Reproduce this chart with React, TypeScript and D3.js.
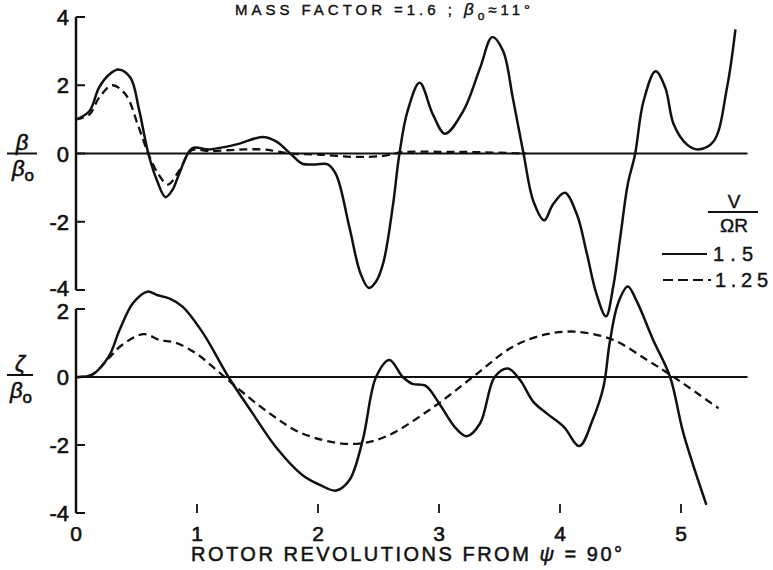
import React from "react";
import * as d3 from "d3";

// Data (x = rotor revolutions)
const betaSolid: [number, number][] = [
  [0, 1.0], [0.11, 1.24], [0.19, 1.93], [0.27, 2.3], [0.35, 2.46], [0.45, 2.22], [0.52, 1.3],
  [0.6, -0.03], [0.67, -0.8], [0.74, -1.28], [0.8, -1.05], [0.85, -0.62], [0.96, 0.15],
  [1.1, 0.12], [1.32, 0.26], [1.54, 0.48], [1.65, 0.36], [1.78, -0.03], [1.87, -0.3],
  [1.98, -0.32], [2.08, -0.32], [2.15, -0.62], [2.26, -2.17], [2.35, -3.5], [2.42, -3.94],
  [2.48, -3.75], [2.54, -3.2], [2.62, -1.5], [2.67, -0.08], [2.74, 1.24], [2.84, 2.07],
  [2.95, 1.14], [3.05, 0.58], [3.2, 1.24], [3.34, 2.51], [3.44, 3.41], [3.53, 3.0],
  [3.61, 1.63], [3.7, -0.03], [3.78, -1.4], [3.87, -1.96], [3.94, -1.5], [4.04, -1.15],
  [4.14, -1.79], [4.22, -2.9], [4.3, -4.1], [4.38, -4.77], [4.44, -3.9], [4.5, -2.4],
  [4.56, -0.9], [4.62, -0.03], [4.69, 1.53], [4.79, 2.41], [4.87, 1.93], [4.94, 0.85],
  [5.05, 0.26], [5.14, 0.12], [5.27, 0.36], [5.38, 1.93], [5.45, 3.64],
];
const betaDashed: [number, number][] = [
  [0, 1.0], [0.11, 1.14], [0.19, 1.63], [0.3, 2.0], [0.41, 1.73], [0.52, 0.75], [0.6, -0.03],
  [0.68, -0.6], [0.76, -0.91], [0.85, -0.52], [0.96, 0.1], [1.1, 0.07], [1.32, 0.11],
  [1.54, 0.12], [1.65, 0.07], [1.77, 0], [2.0, -0.03], [2.29, -0.1], [2.54, -0.07],
  [2.7, 0.04], [3.0, 0.05], [3.3, 0.04], [3.72, 0.0],
];
const zetaSolid: [number, number][] = [
  [0, 0], [0.13, 0.06], [0.27, 0.6], [0.36, 1.38], [0.47, 2.17], [0.59, 2.51], [0.67, 2.41],
  [0.77, 2.31], [0.88, 2.07], [1.05, 1.29], [1.26, 0], [1.46, -1.07], [1.65, -2.05],
  [1.87, -2.88], [2.02, -3.18], [2.15, -3.34], [2.26, -3.03], [2.37, -1.85], [2.48, 0],
  [2.59, 0.5], [2.7, 0], [2.78, -0.2], [2.89, -0.26], [3.0, -0.77], [3.14, -1.51],
  [3.23, -1.74], [3.34, -1.36], [3.46, 0], [3.57, 0.25], [3.67, -0.09], [3.78, -0.73],
  [3.89, -1.07], [4.03, -1.46], [4.16, -2.03], [4.27, -1.26], [4.36, -0.28], [4.41, 0.99],
  [4.48, 2.17], [4.56, 2.66], [4.63, 2.26], [4.77, 1.09], [4.91, 0], [5.02, -1.66],
  [5.21, -3.76],
];
const zetaDashed: [number, number][] = [
  [0, 0], [0.13, 0.06], [0.27, 0.55], [0.38, 0.94], [0.56, 1.26], [0.69, 1.09], [0.82, 1.01],
  [0.99, 0.7], [1.16, 0.21], [1.32, -0.28], [1.6, -1.07], [1.87, -1.66], [2.26, -1.97],
  [2.54, -1.78], [2.92, -0.97], [3.28, 0], [3.61, 0.89], [3.89, 1.26], [4.14, 1.33],
  [4.44, 1.09], [4.72, 0.5], [4.94, 0], [5.31, -0.92],
];

const xTicks = [1, 2, 3, 4, 5];
const xTickLabels = ["0", "1", "2", "3", "4", "5"];
const betaTicks = [4, 2, 0, -2, -4];
const zetaTicks = [2, 0, -2, -4];
const legendLabels = ["1.5", "1.25"];
const zeroLineEnd = 5.55;

const FONT = "'Liberation Sans', Arial, sans-serif";

export default function App() {
  const x = d3.scaleLinear().domain([0, 5]).range([76, 681]);
  const yTop = d3.scaleLinear().domain([-4, 4]).range([290, 17]);
  const yBot = d3.scaleLinear().domain([-4, 2]).range([513, 309]);

  const lineTop = d3.line<[number, number]>().x((d) => x(d[0])).y((d) => yTop(d[1])).curve(d3.curveCatmullRom.alpha(0.5));
  const lineBot = d3.line<[number, number]>().x((d) => x(d[0])).y((d) => yBot(d[1])).curve(d3.curveCatmullRom.alpha(0.5));

  const axisX = x(0);
  const stroke = "#111";
  const txt = { fill: stroke, stroke: stroke, strokeWidth: 0.6 };
  const tickNudge = (t: number, top: boolean) => (top && t === -4 ? -2 : !top && t === 2 ? 2 : 0);

  return (
    <svg width={773} height={570} style={{ position: "absolute", left: 0, top: 0, background: "#fff" }} fontFamily={FONT}>
      <rect width={773} height={570} fill="#fff" />
      {/* Title */}
      <text x={235} y={15} fontSize={15} {...txt} strokeWidth={0.4} textLength={295} lengthAdjust="spacing">
        MASS FACTOR =1.6 ;  <tspan fontStyle="italic" fontSize={17}>β</tspan><tspan dy={5} fontSize={12}>o</tspan><tspan dy={-5}>≈11°</tspan>
      </text>

      {/* Top panel axis */}
      <line x1={axisX} x2={axisX} y1={yTop(4)} y2={yTop(-4)} stroke={stroke} strokeWidth={2.5} />
      {betaTicks.map((t) => (
        <g key={"bt" + t}>
          <line x1={axisX} x2={axisX + 9} y1={yTop(t)} y2={yTop(t)} stroke={stroke} strokeWidth={2} />
          <text x={69} y={yTop(t) + 8 + tickNudge(t, true)} fontSize={22} textAnchor="end" {...txt}>
            {t < 0 ? "-" + Math.abs(t) : String(t)}
          </text>
        </g>
      ))}
      <line x1={axisX} x2={x(zeroLineEnd)} y1={yTop(0)} y2={yTop(0)} stroke={stroke} strokeWidth={2} />

      {/* Bottom panel axis */}
      <line x1={axisX} x2={axisX} y1={yBot(2)} y2={yBot(-4)} stroke={stroke} strokeWidth={2.5} />
      {zetaTicks.map((t) => (
        <g key={"zt" + t}>
          <line x1={axisX} x2={axisX + 9} y1={yBot(t)} y2={yBot(t)} stroke={stroke} strokeWidth={2} />
          <text x={69} y={yBot(t) + 8 + tickNudge(t, false)} fontSize={22} textAnchor="end" {...txt}>
            {t < 0 ? "-" + Math.abs(t) : String(t)}
          </text>
        </g>
      ))}
      <line x1={axisX} x2={x(zeroLineEnd)} y1={yBot(0)} y2={yBot(0)} stroke={stroke} strokeWidth={2} />

      {/* Y labels */}
      <text x={22} y={yTop(0) - 4} fontSize={22} fontStyle="italic" textAnchor="middle" {...txt}>β</text>
      <line x1={7} x2={37} y1={yTop(0)} y2={yTop(0)} stroke={stroke} strokeWidth={2} />
      <text x={12} y={yTop(0) + 22} fontSize={22} fontStyle="italic" {...txt}>
        β<tspan dy={5} fontSize={17} fontStyle="normal">o</tspan>
      </text>
      <text x={20} y={yBot(0) - 6} fontSize={22} fontStyle="italic" textAnchor="middle" {...txt}>ζ</text>
      <line x1={7} x2={33} y1={yBot(0) - 2} y2={yBot(0) - 2} stroke={stroke} strokeWidth={2} />
      <text x={10} y={yBot(0) + 21} fontSize={22} fontStyle="italic" {...txt}>
        β<tspan dy={5} fontSize={17} fontStyle="normal">o</tspan>
      </text>

      {/* X ticks & labels */}
      {xTicks.map((t) => (
        <line key={"xt" + t} x1={x(t)} x2={x(t)} y1={504} y2={513} stroke={stroke} strokeWidth={1.8} />
      ))}
      {xTickLabels.map((l, i) => (
        <text key={"xl" + i} x={x(i)} y={541} fontSize={21} textAnchor="middle" {...txt}>{l}</text>
      ))}
      <text x={191} y={561} fontSize={20} {...txt} strokeWidth={0.5} textLength={431} lengthAdjust="spacing">
        ROTOR REVOLUTIONS FROM <tspan fontStyle="italic">ψ</tspan> = 90°
      </text>

      {/* Curves */}
      <path d={lineTop(betaDashed) || ""} fill="none" stroke={stroke} strokeWidth={2.3} strokeDasharray="8,5" />
      <path d={lineTop(betaSolid) || ""} fill="none" stroke={stroke} strokeWidth={2.5} />
      <path d={lineBot(zetaDashed) || ""} fill="none" stroke={stroke} strokeWidth={2.3} strokeDasharray="8,5" />
      <path d={lineBot(zetaSolid) || ""} fill="none" stroke={stroke} strokeWidth={2.5} />

      {/* Legend */}
      <text x={734} y={208} fontSize={19} textAnchor="middle" {...txt} strokeWidth={0.4}>V</text>
      <line x1={708} x2={758} y1={212} y2={212} stroke={stroke} strokeWidth={2} />
      <text x={734} y={232} fontSize={19} textAnchor="middle" {...txt} strokeWidth={0.4}>ΩR</text>
      <line x1={662} x2={707} y1={254} y2={254} stroke={stroke} strokeWidth={2} />
      <text x={713} y={261} fontSize={20} {...txt} strokeWidth={0.4} textLength={40} lengthAdjust="spacing">{legendLabels[0]}</text>
      <line x1={663} x2={711} y1={280} y2={280} stroke={stroke} strokeWidth={2} strokeDasharray="10,5" />
      <text x={715} y={287} fontSize={20} {...txt} strokeWidth={0.4} textLength={53} lengthAdjust="spacing">{legendLabels[1]}</text>
    </svg>
  );
}
